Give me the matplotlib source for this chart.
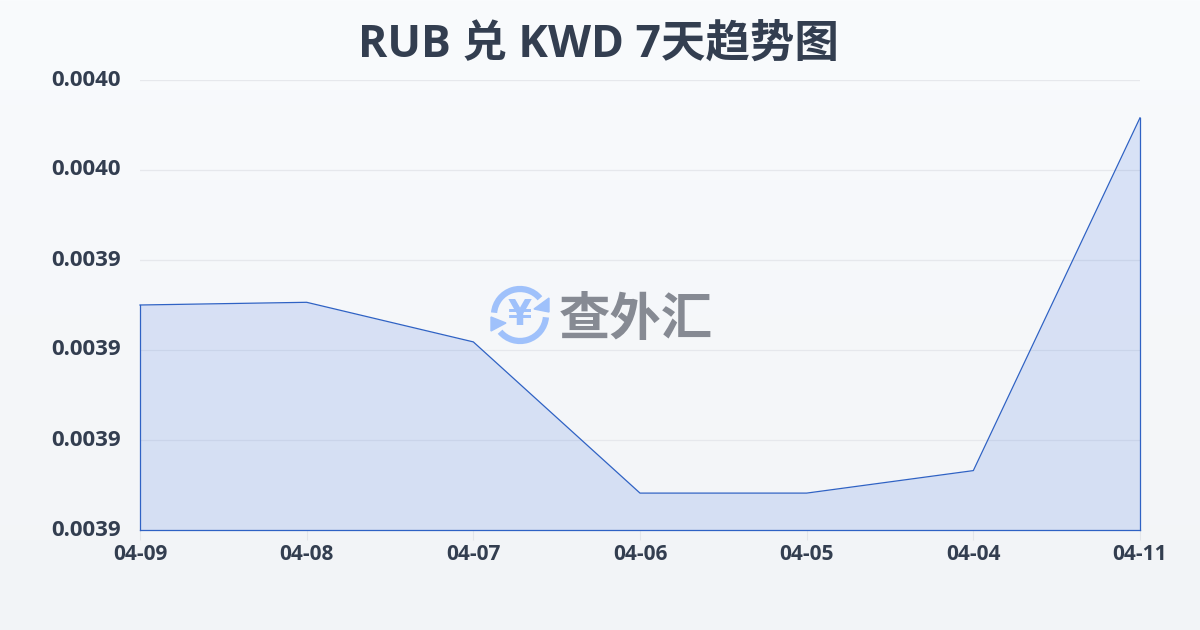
import numpy as np
import matplotlib
matplotlib.use('Agg')
import matplotlib.pyplot as plt
from matplotlib.patches import Arc, Polygon

# datos
fechas = ['04-09', '04-08', '04-07', '04-06', '04-05', '04-04', '04-11']
valores = [0.0039350, 0.0039353, 0.0039309, 0.0039141, 0.0039141, 0.0039166, 0.0039558]
y_ticks = [0.00391, 0.00392, 0.00393, 0.00394, 0.00395, 0.00396]
y_labels = ['0.0039', '0.0039', '0.0039', '0.0039', '0.0040', '0.0040']

plt.rcParams['font.family'] = ['Open Sans', 'Noto Sans CJK SC', 'DejaVu Sans']
oscuro = '#333e50'
azul = '#2f62c4'

fig = plt.figure(figsize=(12, 6.3), dpi=100)

# fondo con degradado
fondo = fig.add_axes([0, 0, 1, 1], zorder=0)
c1 = np.array([249, 251, 253]) / 255
c2 = np.array([242, 244, 247]) / 255
t = np.linspace(0, 1, 630)[:, None, None]
fondo.imshow(c1 + (c2 - c1) * t, aspect='auto', extent=[0, 1200, 630, 0])
fondo.set_xlim(0, 1200)
fondo.set_ylim(630, 0)
fondo.axis('off')

# marca de agua (coordenadas en pixeles)
azul_logo = '#9fc1fb'
fondo.add_patch(Arc((520, 315), 52, 52, theta1=185, theta2=320, color=azul_logo, lw=4.5))
fondo.add_patch(Arc((520, 315), 52, 52, theta1=5, theta2=140, color=azul_logo, lw=4.5))
fondo.add_patch(Polygon([[549, 298], [549, 312], [534, 309]], color=azul_logo))
fondo.add_patch(Polygon([[491, 317], [491, 331], [506, 323]], color=azul_logo))
fondo.text(520, 315, '¥', color=azul_logo, fontsize=25, fontweight='bold',
           ha='center', va='center', family=['DejaVu Sans'])
fondo.text(636, 320, '查外汇', color='#868a93', fontsize=37, fontweight='bold',
           ha='center', va='center', family=['Noto Sans CJK SC'])

# grafico principal
ax = fig.add_axes([140 / 1200, 100 / 630, 1000 / 1200, 450 / 630], zorder=1)
ax.patch.set_alpha(0)
x = np.arange(len(fechas))
ax.fill_between(x, valores, y_ticks[0], color='#4474e0', alpha=0.17, lw=0, zorder=3)
ax.plot(x, valores, color=azul, lw=0.9, zorder=4, clip_on=False)
ax.plot([x[0], x[0]], [y_ticks[0], valores[0]], color=azul, lw=0.9, zorder=4, clip_on=False)
ax.plot([x[-1], x[-1]], [y_ticks[0], valores[-1]], color=azul, lw=0.9, zorder=4, clip_on=False)
ax.plot([x[0], x[-1]], [y_ticks[0], y_ticks[0]], color=azul, lw=0.9, zorder=4, clip_on=False)

ax.set_xlim(x[0], x[-1])
ax.set_ylim(y_ticks[0], y_ticks[-1])
ax.set_xticks(x)
ax.set_xticklabels(fechas)
ax.set_yticks(y_ticks)
ax.set_yticklabels(y_labels)
ax.grid(axis='y', color='#e6e8ec', lw=0.9, zorder=1)
for lado in ax.spines.values():
    lado.set_visible(False)
ax.tick_params(axis='x', length=7, width=0.8, color='#e3e6ea', pad=3, labelsize=15, labelcolor=oscuro)
ax.tick_params(axis='y', length=0, pad=14, labelsize=16, labelcolor=oscuro)
for e in ax.get_xticklabels() + ax.get_yticklabels():
    e.set_fontweight('bold')
for e in ax.get_yticklabels():
    e.set_verticalalignment('center')

fig.text(598 / 1200, 1 - 45 / 630, 'RUB 兑 KWD 7天趋势图', color=oscuro, fontsize=32,
         fontweight='bold', ha='center', va='center', zorder=5)

fig.savefig('out.png', dpi=100)
